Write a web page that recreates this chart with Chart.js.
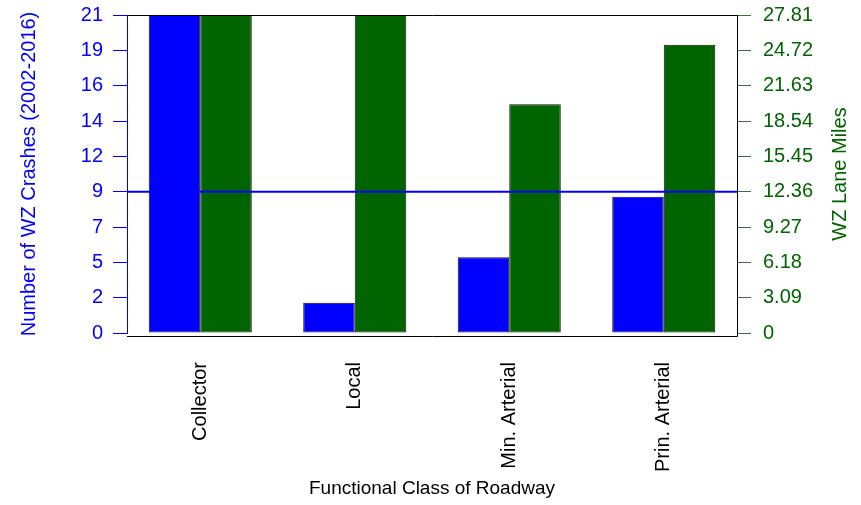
<!DOCTYPE html>
<html>
<head>
<meta charset="utf-8">
<script src="https://cdn.jsdelivr.net/npm/chart.js@4"></script>
<style>
  html,body{margin:0;padding:0;background:#fff;}
  #wrap{width:861px;height:505px;}
</style>
</head>
<body>
<div id="wrap"><canvas id="chart" width="861" height="505"></canvas></div>
<script>
/* DATA */
const categories = ["Collector","Local","Min. Arterial","Prin. Arterial"];
const crashes = [21, 2, 5, 9];
const laneMiles = [27.81, 27.81, 20.0, 25.2];
const leftTickLabels = ["0","2","5","7","9","12","14","16","19","21"];
const rightTickLabels = ["0","3.09","6.18","9.27","12.36","15.45","18.54","21.63","24.72","27.81"];
const refLineMiles = 12.36;
const rightTitle = "WZ Lane Miles";

const BLUE = "#0000ff", GREEN = "#006400";
const FAMILY = "'Liberation Sans', Arial, sans-serif";
const FONT = {family:FAMILY, size:20};

/* frame, reference line, right title (reads bottom-to-top like R) */
const frame = {
  id:"frame",
  afterLayout(chart){
    // R's barplot spaces groups a little wider than the box: stretch the category scale
    const s = chart.scales.x, a = chart.chartArea;
    s.left = a.left - 4; s.right = a.right + 4; s.width = s.right - s.left;
    s.configure();
  },
  afterDatasetsDraw(chart){
    const {ctx, chartArea:a, scales} = chart;
    ctx.save();
    const y = scales.y1.getPixelForValue(refLineMiles);
    ctx.strokeStyle = BLUE; ctx.lineWidth = 2;
    ctx.beginPath(); ctx.moveTo(a.left, y); ctx.lineTo(a.right, y); ctx.stroke();

    ctx.strokeStyle = "#000"; ctx.lineWidth = 1;
    ctx.beginPath();
    ctx.moveTo(a.left, a.top + .5); ctx.lineTo(a.right + .5, a.top + .5);
    ctx.lineTo(a.right + .5, a.bottom + 3.5); ctx.lineTo(a.left, a.bottom + 3.5);
    ctx.stroke();

    ctx.translate(840, (a.top + a.bottom) / 2);
    ctx.rotate(-Math.PI / 2);
    ctx.fillStyle = GREEN;
    ctx.font = "20px " + FAMILY;
    ctx.textAlign = "center"; ctx.textBaseline = "middle";
    ctx.fillText(rightTitle, 0, 0);
    ctx.restore();
  }
};

const noPad = s => { s.paddingTop = 0; s.paddingBottom = 0; };

new Chart(document.getElementById("chart"),{
  type:"bar",
  data:{
    labels:categories,
    datasets:[
      {data:crashes, yAxisID:"y", backgroundColor:BLUE, borderColor:"#111", borderWidth:1, borderSkipped:false},
      {data:laneMiles, yAxisID:"y1", backgroundColor:GREEN, borderColor:"#111", borderWidth:1, borderSkipped:false}
    ]
  },
  options:{
    responsive:false,
    animation:false,
    layout:{padding:{top:15, left:0, right:0, bottom:0}},
    datasets:{bar:{categoryPercentage:.667, barPercentage:1}},
    plugins:{legend:{display:false}, tooltip:{enabled:false}},
    scales:{
      x:{
        grid:{display:false},
        border:{display:false},
        ticks:{color:"#000", font:FONT, minRotation:90, maxRotation:90, padding:21, autoSkip:false},
        title:{display:true, text:"Functional Class of Roadway", color:"#000", font:{family:FAMILY, size:19}, padding:{top:0, bottom:5}},
        afterFit(s){ s.height = 172; s.paddingLeft = 0; s.paddingRight = 0; }
      },
      y:{
        position:"left", min:0, max:21,
        grid:{drawOnChartArea:false, color:BLUE, tickLength:14},
        border:{color:BLUE},
        ticks:{count:10, autoSkip:false, color:BLUE, font:FONT, padding:10,
               callback:(v,i)=>leftTickLabels[i]},
        title:{display:true, text:"Number of WZ Crashes (2002-2016)", color:BLUE, font:FONT, padding:{top:17, bottom:0}},
        afterFit(s){ s.width = 127; noPad(s); }
      },
      y1:{
        position:"right", min:0, max:27.81,
        grid:{drawOnChartArea:false, color:"#3c6e3c", tickLength:14},
        border:{color:"#222"},
        ticks:{count:10, autoSkip:false, color:GREEN, font:FONT, padding:12,
               callback:(v,i)=>rightTickLabels[i]},
        afterFit(s){ s.width = 124; noPad(s); }
      }
    }
  },
  plugins:[frame]
});
</script>
</body>
</html>
